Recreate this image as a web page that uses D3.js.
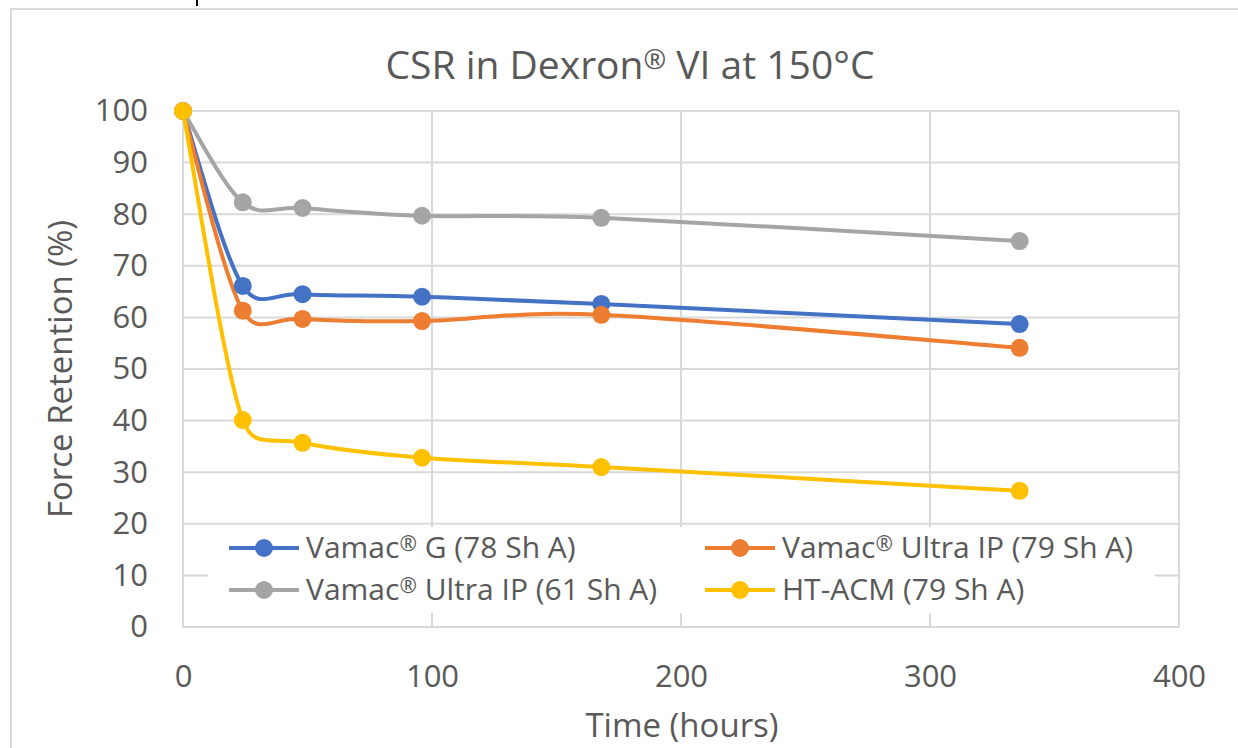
<!DOCTYPE html>
<html>
<head>
<meta charset="utf-8">
<script src="https://cdn.jsdelivr.net/npm/d3@7"></script>
<style>
  body { margin: 0; background: #fff; }
  text { font-family: "Open Sans", sans-serif; fill: #595959; }
</style>
</head>
<body>
<script>
// data
var hours = [0, 24, 48, 96, 168, 336];
var vamacG78 = [100, 66.1, 64.5, 64.0, 62.6, 58.7];
var ultraIP79 = [100, 61.3, 59.7, 59.3, 60.5, 54.1];
var ultraIP61 = [100, 82.3, 81.2, 79.7, 79.3, 74.8];
var htAcm79 = [100, 40.1, 35.7, 32.8, 31.0, 26.4];
var seriesNames = ["Vamac® G (78 Sh A)", "Vamac® Ultra IP (79 Sh A)", "Vamac® Ultra IP (61 Sh A)", "HT-ACM (79 Sh A)"];
var seriesColors = ["#4472C4", "#ED7D31", "#A5A5A5", "#FFC000"];
var yTicks = [0, 10, 20, 30, 40, 50, 60, 70, 80, 90, 100];
var xTicks = [0, 100, 200, 300, 400];

const W = 1238, H = 748;
const PLOT = { left: 183, right: 1179, top: 111, bottom: 627 };

var series = [vamacG78, ultraIP79, ultraIP61, htAcm79].map(function(vals, i) {
    return {
        name: seriesNames[i],
        color: seriesColors[i],
        points: vals.map(function(v, j) { return { x: hours[j], y: v }; })
    };
});

var x = d3.scaleLinear().domain([0, 400]).range([PLOT.left, PLOT.right]);
var y = d3.scaleLinear().domain([0, 100]).range([PLOT.bottom, PLOT.top]);

// spreadsheet-style smoothing: catmull-rom bezier, control arm capped at half the segment
function smoothPath(pts) {
    var p = d3.path();
    var n = pts.length;
    function dist(a, b) { return Math.hypot(b[0] - a[0], b[1] - a[1]); }
    p.moveTo(pts[0][0], pts[0][1]);
    for (var i = 0; i < n - 1; i++) {
        var p0 = pts[Math.max(i - 1, 0)], p1 = pts[i], p2 = pts[i + 1], p3 = pts[Math.min(i + 2, n - 1)];
        var d12 = dist(p1, p2), d02 = dist(p0, p2), d13 = dist(p1, p3);
        var f0 = 1 / 6, f1 = 1 / 6;
        if (d02 / 6 >= d12 / 2 && d02 > 0) f0 = d12 / d02 / 2;
        if (d13 / 6 >= d12 / 2 && d13 > 0) f1 = d12 / d13 / 2;
        p.bezierCurveTo(
            p1[0] + f0 * (p2[0] - p0[0]), p1[1] + f0 * (p2[1] - p0[1]),
            p2[0] - f1 * (p3[0] - p1[0]), p2[1] - f1 * (p3[1] - p1[1]),
            p2[0], p2[1]);
    }
    return p.toString();
}

// name with a raised, smaller registered sign
function richText(sel, str) {
    var parts = str.split("®");
    parts.forEach(function(part, i) {
        if (i > 0) {
            sel.append("tspan")
                .attr("dy", "-0.35em")
                .style("font-size", "0.7em")
                .text("®");
            sel.append("tspan").attr("dy", "0.245em").text(part);
        } else {
            sel.append("tspan").text(part);
        }
    });
}

var svg = d3.select("body").append("svg")
    .attr("width", W)
    .attr("height", H);

// chart frame (cropped in the original)
svg.append("rect")
    .attr("x", 11).attr("y", 9)
    .attr("width", 1300).attr("height", 800)
    .attr("fill", "none")
    .attr("stroke", "#d9d9d9")
    .attr("stroke-width", 2);

svg.append("line")
    .attr("x1", 197).attr("x2", 197)
    .attr("y1", 0).attr("y2", 6)
    .attr("stroke", "#000")
    .attr("stroke-width", 2);

// gridlines
var grid = svg.append("g");
grid.selectAll("line.h")
    .data(yTicks)
    .enter().append("line")
    .attr("class", "h")
    .attr("x1", PLOT.left).attr("x2", PLOT.right)
    .attr("y1", function(d) { return y(d); })
    .attr("y2", function(d) { return y(d); })
    .attr("stroke", "#d9d9d9")
    .attr("stroke-width", 2);
grid.selectAll("line.v")
    .data(xTicks)
    .enter().append("line")
    .attr("class", "v")
    .attr("y1", PLOT.top).attr("y2", PLOT.bottom)
    .attr("x1", function(d) { return x(d); })
    .attr("x2", function(d) { return x(d); })
    .attr("stroke", "#d9d9d9")
    .attr("stroke-width", 2);

// axes
var axisY = d3.axisLeft(y).tickValues(yTicks).tickSize(0).tickPadding(35);
var axisX = d3.axisBottom(x).tickValues(xTicks).tickSize(0).tickPadding(38);

var gy = svg.append("g")
    .attr("transform", "translate(" + PLOT.left + ",0)")
    .call(axisY);
var gx = svg.append("g")
    .attr("transform", "translate(0," + PLOT.bottom + ")")
    .call(axisX);
[gx, gy].forEach(function(g) {
    g.select(".domain").remove();
    g.selectAll("text")
        .style("font-family", "'Open Sans', sans-serif")
        .style("font-size", "31px")
        .style("fill", "#595959");
});

// title
svg.append("text")
    .attr("x", 630).attr("y", 79)
    .attr("text-anchor", "middle")
    .style("font-size", "39px")
    .call(richText, "CSR in Dexron® VI at 150°C");

// axis titles
svg.append("text")
    .attr("transform", "translate(72," + ((PLOT.top + PLOT.bottom) / 2) + ") rotate(-90)")
    .attr("text-anchor", "middle")
    .style("font-size", "33px")
    .text("Force Retention (%)");

svg.append("text")
    .attr("x", 682).attr("y", 737)
    .attr("text-anchor", "middle")
    .style("font-size", "33px")
    .text("Time (hours)");

// series lines
var lines = svg.append("g");
series.forEach(function(s) {
    lines.append("path")
        .attr("d", smoothPath(s.points.map(function(d) { return [x(d.x), y(d.y)]; })))
        .attr("fill", "none")
        .attr("stroke", s.color)
        .attr("stroke-width", 4)
        .attr("stroke-linecap", "round");
});
series.forEach(function(s) {
    lines.append("g")
        .selectAll("circle")
        .data(s.points)
        .enter().append("circle")
        .attr("cx", function(d) { return x(d.x); })
        .attr("cy", function(d) { return y(d.y); })
        .attr("r", 9)
        .attr("fill", s.color);
});

// legend
var legend = svg.append("g");
legend.append("rect")
    .attr("x", 208).attr("y", 527)
    .attr("width", 947).attr("height", 86)
    .attr("fill", "#fff");

var legendPos = [
    { lx: 229, ty: 548 },
    { lx: 705, ty: 548 },
    { lx: 229, ty: 590 },
    { lx: 705, ty: 590 }
];
series.forEach(function(s, i) {
    var p = legendPos[i];
    var item = legend.append("g")
        .attr("transform", "translate(" + p.lx + "," + p.ty + ")");
    item.append("line")
        .attr("x1", 0).attr("x2", 70)
        .attr("stroke", s.color)
        .attr("stroke-width", 4);
    item.append("circle")
        .attr("cx", 35).attr("r", 9)
        .attr("fill", s.color);
    item.append("text")
        .attr("x", 77).attr("y", 10)
        .style("font-size", "30px")
        .call(richText, s.name);
});
</script>
</body>
</html>
